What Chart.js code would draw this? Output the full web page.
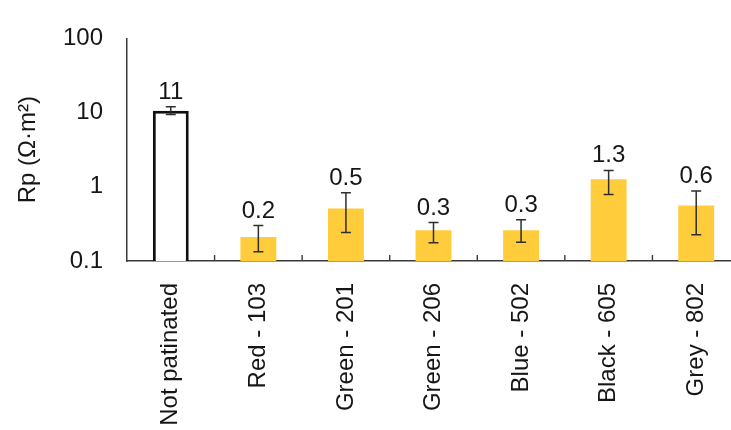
<!DOCTYPE html>
<html>
<head>
<meta charset="utf-8">
<script src="https://cdn.jsdelivr.net/npm/chart.js@4/dist/chart.umd.min.js"></script>
<style>
  html, body { margin: 0; padding: 0; background: #fff; overflow: hidden; }
  #wrap { width: 740px; height: 430px; }
</style>
</head>
<body>
<div id="wrap"><canvas id="c" width="740" height="430"></canvas></div>
<script>
// Polarisation resistance per patina colour
const categories = ['Not patinated', 'Red - 103', 'Green - 201', 'Green - 206', 'Blue - 502', 'Black - 605', 'Grey - 802'];
const rpValues   = [10.6, 0.21, 0.51, 0.26, 0.26, 1.26, 0.56];
const errUpper   = [12.0, 0.30, 0.83, 0.33, 0.36, 1.66, 0.88];
const errLower   = [9.4, 0.133, 0.243, 0.176, 0.179, 0.79, 0.226];
const yTicks     = [0.1, 1, 10, 100];

const FONT = "'Liberation Sans', Arial, sans-serif";
const TEXT = '#161616';
const AXIS = '#3a3a3a';

const fmt = v => (v >= 10 ? String(Math.round(v)) : v.toFixed(1));

// Error bars and value labels above each bar
const errorBars = {
  id: 'errorBars',
  afterDatasetsDraw(chart) {
    const { ctx, scales: { y } } = chart;
    const meta = chart.getDatasetMeta(0);
    ctx.save();
    meta.data.forEach((bar, i) => {
      const x = bar.x;
      const yHi = y.getPixelForValue(errUpper[i]);
      const yLo = y.getPixelForValue(errLower[i]);
      ctx.strokeStyle = '#2e2e2e';
      ctx.lineWidth = 1.5;
      ctx.beginPath();
      ctx.moveTo(x, yHi); ctx.lineTo(x, yLo);
      ctx.moveTo(x - 5, yHi); ctx.lineTo(x + 5, yHi);
      ctx.moveTo(x - 5, yLo); ctx.lineTo(x + 5, yLo);
      ctx.stroke();

      ctx.fillStyle = TEXT;
      ctx.font = '24px ' + FONT;
      ctx.textAlign = 'center';
      ctx.textBaseline = 'alphabetic';
      ctx.fillText(fmt(rpValues[i]), x, yHi - 8);
    });
    ctx.restore();
  }
};

// Short inward tick marks between categories on the x axis
const catTicks = {
  id: 'catTicks',
  afterDraw(chart) {
    const { ctx, scales: { x }, chartArea } = chart;
    const step = (x.right - x.left) / categories.length;
    ctx.save();
    ctx.strokeStyle = AXIS;
    ctx.lineWidth = 1.4;
    ctx.beginPath();
    for (let k = 1; k < categories.length; k++) {
      const px = x.left + k * step;
      ctx.moveTo(px, chartArea.bottom);
      ctx.lineTo(px, chartArea.bottom - 6);
    }
    ctx.stroke();
    ctx.restore();
  }
};

new Chart(document.getElementById('c'), {
  type: 'bar',
  data: {
    labels: categories,
    datasets: [{
      data: rpValues,
      backgroundColor: ctx => (ctx.dataIndex === 0 ? '#ffffff' : '#ffcd3c'),
      borderColor: ctx => (ctx.dataIndex === 0 ? '#111111' : 'rgba(0,0,0,0)'),
      borderWidth: ctx => (ctx.dataIndex === 0 ? 3 : 0),
      borderSkipped: 'start',
      barPercentage: 0.41,
      categoryPercentage: 1
    }]
  },
  options: {
    responsive: false,
    animation: false,
    devicePixelRatio: 1,
    layout: { padding: { top: 33, left: 0, right: 0, bottom: 0 } },
    plugins: { legend: { display: false }, tooltip: { enabled: false } },
    scales: {
      x: {
        grid: { display: false },
        border: { display: true, color: AXIS, width: 1.5 },
        ticks: {
          color: TEXT,
          font: { family: FONT, size: 24 },
          minRotation: 90,
          maxRotation: 90,
          autoSkip: false,
          padding: 14
        },
        afterFit(s) { s.height = 169; s.paddingLeft = 0; s.paddingRight = 0; }
      },
      y: {
        type: 'logarithmic',
        min: 0.1,
        max: 100,
        grid: { display: false, drawTicks: false },
        border: { display: true, color: AXIS, width: 1.5 },
        afterBuildTicks(s) { s.ticks = yTicks.map(v => ({ value: v })); },
        ticks: {
          color: TEXT,
          font: { family: FONT, size: 24 },
          padding: 24,
          callback: v => String(v)
        },
        title: {
          display: true,
          text: 'Rp (Ω·m²)',
          color: TEXT,
          font: { family: FONT, size: 24 },
          padding: { top: 14, bottom: 0 }
        },
        afterFit(s) { s.width = 127; }
      }
    }
  },
  plugins: [errorBars, catTicks]
});
</script>
</body>
</html>
